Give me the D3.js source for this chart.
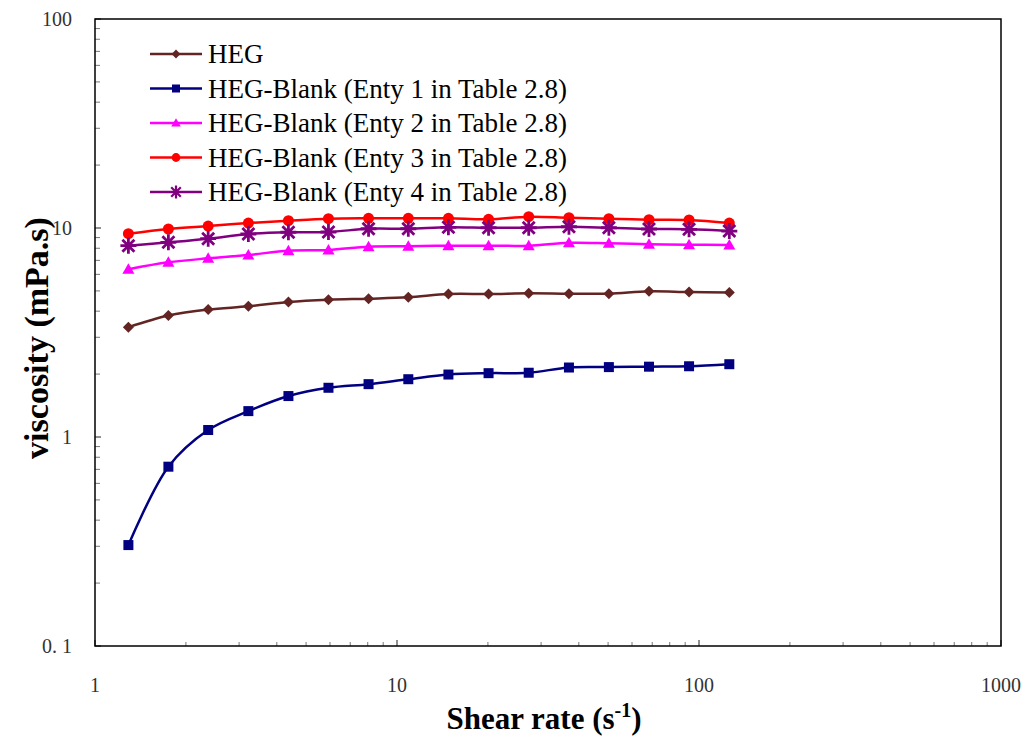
<!DOCTYPE html>
<html>
<head>
<meta charset="utf-8">
<script src="https://cdn.jsdelivr.net/npm/d3@7"></script>
<style>
  body { margin: 0; background: #fff; }
  svg { display: block; font-family: "Liberation Serif", "Times New Roman", serif; }
</style>
</head>
<body>
<svg id="chart" width="1026" height="740"></svg>
<script>
'use strict'

// shear rate (1/s)
var shearRates = [1.29, 1.75, 2.37, 3.22, 4.37, 5.93, 8.05, 10.9, 14.8, 20.1, 27.3, 37.1, 50.3, 68.3, 92.7, 126];

var hegVals    = [3.35, 3.81, 4.07, 4.22, 4.43, 4.54, 4.59, 4.66, 4.83, 4.83, 4.87, 4.85, 4.85, 4.98, 4.94, 4.92];
var blank1Vals = [0.304, 0.721, 1.08, 1.33, 1.57, 1.72, 1.79, 1.89, 1.99, 2.02, 2.03, 2.15, 2.16, 2.17, 2.18, 2.23];
var blank2Vals = [6.35, 6.85, 7.16, 7.43, 7.79, 7.85, 8.14, 8.18, 8.23, 8.23, 8.23, 8.50, 8.45, 8.36, 8.32, 8.29];
var blank3Vals = [9.39, 9.89, 10.22, 10.56, 10.84, 11.08, 11.13, 11.13, 11.13, 11.01, 11.33, 11.20, 11.08, 10.96, 10.92, 10.56];
var blank4Vals = [8.23, 8.54, 8.89, 9.36, 9.54, 9.57, 9.92, 9.92, 10.08, 10.03, 10.03, 10.14, 10.03, 9.89, 9.86, 9.67];

var seriesNames = ["HEG",
  "HEG-Blank (Enty 1 in Table 2.8)",
  "HEG-Blank (Enty 2 in Table 2.8)",
  "HEG-Blank (Enty 3 in Table 2.8)",
  "HEG-Blank (Enty 4 in Table 2.8)"];
var seriesColors = ["#632523", "#000080", "#ff00ff", "#ff0000", "#800080"];
var seriesMarkers = ["diamond", "square", "triangle", "circle", "star"];

var xTicks = [1, 10, 100, 1000];
var yTicks = [0.1, 1, 10, 100];
var yTickLabels = ["0. 1", "1", "10", "100"];

var margin = {left: 95, top: 19, right: 1001, bottom: 646};

var svg = d3.select("#chart");

var x = d3.scaleLog().domain([1, 1000]).range([margin.left, margin.right]);
var y = d3.scaleLog().domain([0.1, 100]).range([margin.bottom, margin.top]);

// minor ticks (2..9 in each decade)
var minorX = [], minorY = [];
[1, 10, 100].forEach(function(d) {
  for (var i = 2; i <= 9; i++) minorX.push(d * i);
});
[0.1, 1, 10].forEach(function(d) {
  for (var i = 2; i <= 9; i++) minorY.push(d * i);
});

var ticks = svg.append("g").attr("class", "ticks");
ticks.selectAll("line.mx")
  .data(minorX).enter().append("line")
    .attr("x1", function(d) { return x(d); })
    .attr("x2", function(d) { return x(d); })
    .attr("y1", margin.bottom)
    .attr("y2", margin.bottom - 4)
    .attr("stroke", "#777").attr("stroke-width", 1);
ticks.selectAll("line.Mx")
  .data(xTicks).enter().append("line")
    .attr("x1", function(d) { return x(d); })
    .attr("x2", function(d) { return x(d); })
    .attr("y1", margin.bottom)
    .attr("y2", margin.bottom - 6)
    .attr("stroke", "#222").attr("stroke-width", 1);
ticks.selectAll("line.my")
  .data(minorY).enter().append("line")
    .attr("y1", function(d) { return y(d); })
    .attr("y2", function(d) { return y(d); })
    .attr("x1", margin.left)
    .attr("x2", margin.left + 5)
    .attr("stroke", "#777").attr("stroke-width", 1);
ticks.selectAll("line.My")
  .data(yTicks).enter().append("line")
    .attr("y1", function(d) { return y(d); })
    .attr("y2", function(d) { return y(d); })
    .attr("x1", margin.left)
    .attr("x2", margin.left + 6)
    .attr("stroke", "#222").attr("stroke-width", 1);

// frame
svg.append("rect")
  .attr("x", margin.left).attr("y", margin.top)
  .attr("width", margin.right - margin.left)
  .attr("height", margin.bottom - margin.top)
  .attr("fill", "none").attr("stroke", "#000").attr("stroke-width", 1.5);

// tick labels
svg.selectAll("text.xl")
  .data(xTicks).enter().append("text")
    .attr("x", function(d) { return x(d); })
    .attr("y", 692)
    .attr("text-anchor", "middle")
    .attr("font-size", 20)
    .attr("fill", "#333")
    .text(function(d) { return d; });
svg.selectAll("text.yl")
  .data(yTicks).enter().append("text")
    .attr("x", 72)
    .attr("y", function(d) { return y(d) + 7; })
    .attr("text-anchor", "end")
    .attr("font-size", 20)
    .attr("fill", "#333")
    .text(function(d, i) { return yTickLabels[i]; });

// axis titles
var xt = svg.append("text")
  .attr("x", 544).attr("y", 729)
  .attr("text-anchor", "middle")
  .attr("font-size", 31).attr("font-weight", "bold");
xt.append("tspan").text("Shear rate (s");
xt.append("tspan").attr("dy", -12).attr("font-size", 20).text("-1");
xt.append("tspan").attr("dy", 12).text(")");

svg.append("text")
  .attr("transform", "translate(48,338) rotate(-90)")
  .attr("text-anchor", "middle")
  .attr("font-size", 34).attr("font-weight", "bold")
  .text("viscosity (mPa.s)");

var allVals = [hegVals, blank1Vals, blank2Vals, blank3Vals, blank4Vals];
var series = allVals.map(function(vals, i) {
  return {
    name: seriesNames[i],
    color: seriesColors[i],
    marker: seriesMarkers[i],
    points: vals.map(function(v, j) { return {x: shearRates[j], y: v}; })
  };
});

var line = d3.line()
  .x(function(d) { return x(d.x); })
  .y(function(d) { return y(d.y); })
  .curve(d3.curveCatmullRom.alpha(0.5));

function drawMarker(g, kind, color) {
  if (kind === "diamond") {
    g.append("path").attr("d", "M0,-5.5L5.5,0L0,5.5L-5.5,0Z").attr("fill", color);
  } else if (kind === "square") {
    g.append("rect").attr("x", -5).attr("y", -5).attr("width", 10).attr("height", 10).attr("fill", color);
  } else if (kind === "triangle") {
    g.append("path").attr("d", "M0,-6L6,4.5L-6,4.5Z").attr("fill", color);
  } else if (kind === "circle") {
    g.append("circle").attr("r", 5.5).attr("fill", color);
  } else if (kind === "star") {
    g.append("path")
      .attr("d", "M-8,0L8,0M0,-8L0,8M-6,-6L6,6M-6,6L6,-6")
      .attr("stroke", color).attr("stroke-width", 2.8).attr("fill", "none");
  }
}

var plot = svg.append("g");
series.forEach(function(s) {
  plot.append("path")
    .datum(s.points)
    .attr("d", line)
    .attr("fill", "none")
    .attr("stroke", s.color)
    .attr("stroke-width", 2.5);
  plot.selectAll(null)
    .data(s.points).enter().append("g")
      .attr("transform", function(d) { return "translate(" + x(d.x) + "," + y(d.y) + ")"; })
      .each(function() { drawMarker(d3.select(this), s.marker, s.color); });
});

// legend
var legend = svg.append("g").attr("transform", "translate(150,54)");
series.forEach(function(s, i) {
  var row = legend.append("g").attr("transform", "translate(0," + (i * 34.5) + ")");
  row.append("line").attr("x1", 0).attr("x2", 52).attr("y1", 0).attr("y2", 0)
    .attr("stroke", s.color).attr("stroke-width", 2.5);
  var m = row.append("g").attr("transform", "translate(26,0) scale(0.8)");
  drawMarker(m, s.marker, s.color);
  row.append("text").attr("x", 58).attr("y", 9)
    .attr("font-size", 27)
    .text(s.name);
});
</script>
</body>
</html>
